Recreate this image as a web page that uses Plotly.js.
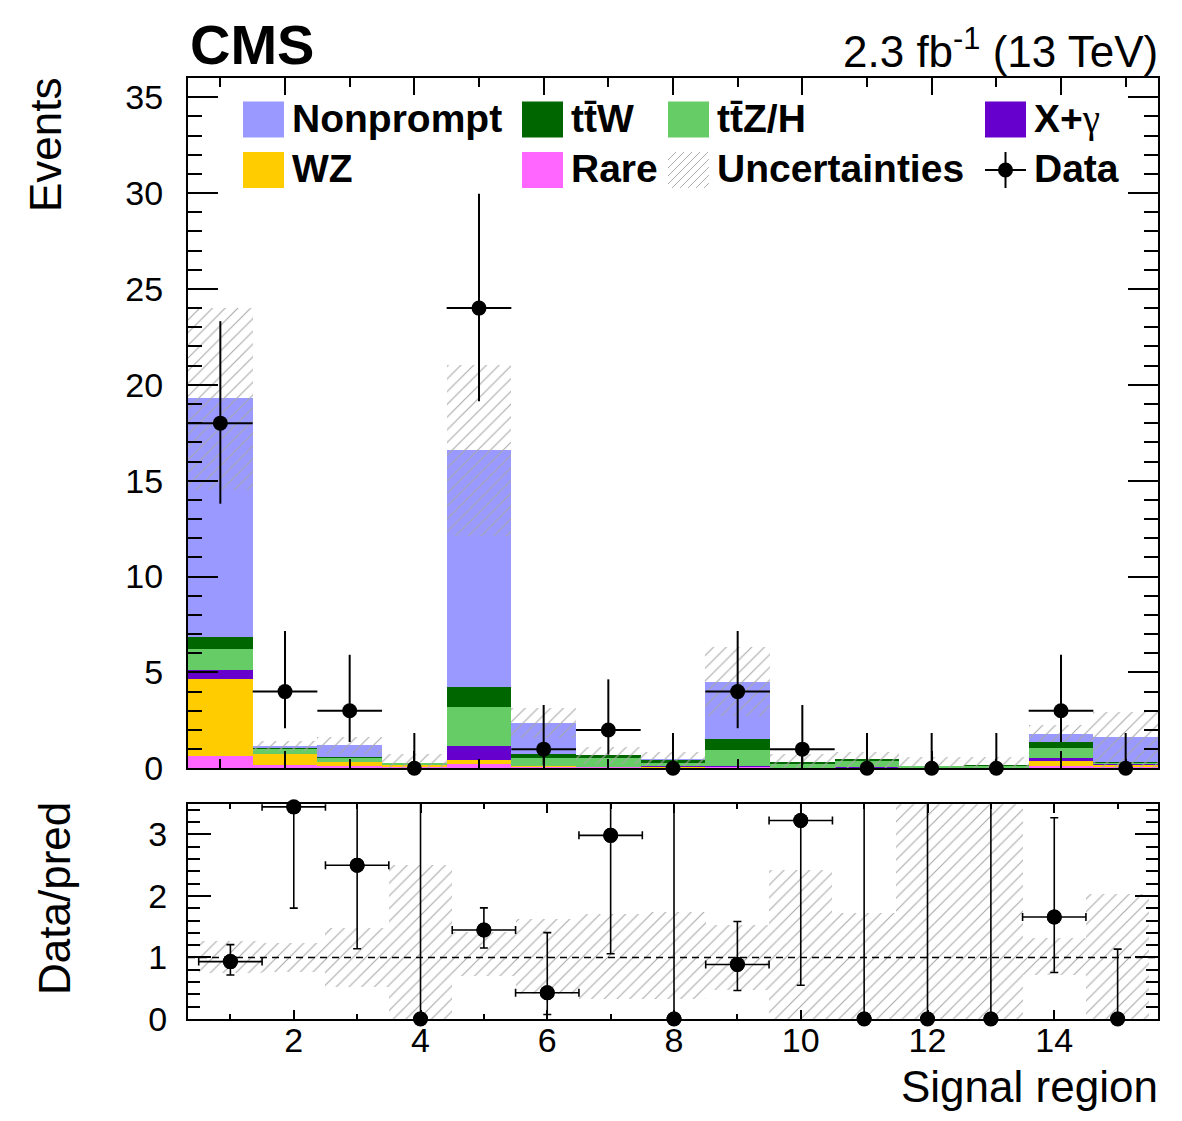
<!DOCTYPE html>
<html>
<head>
<meta charset="utf-8">
<script src="https://cdn.plot.ly/plotly-3.0.1.min.js"></script>
<style>
  html, body { margin: 0; padding: 0; background: #ffffff; }
  #chart { width: 1182px; height: 1121px; }
</style>
</head>
<body>
<div id="chart"></div>
<script>
// ---------------- data ----------------
const bins = [1, 2, 3, 4, 5, 6, 7, 8, 9, 10, 11, 12, 13, 14, 15];

const rare      = [0.64, 0.15, 0.12, 0.05, 0.22, 0.08, 0.05, 0.04, 0.06, 0.02, 0.02, 0.02, 0.02, 0.14, 0.06];
const wz        = [4.01, 0.60, 0.21, 0.12, 0.21, 0.03, 0.02, 0.01, 0.03, 0.01, 0.01, 0.00, 0.00, 0.26, 0.12];
const xgamma    = [0.48, 0.02, 0.02, 0.01, 0.73, 0.03, 0.02, 0.05, 0.04, 0.01, 0.02, 0.00, 0.00, 0.12, 0.02];
const ttzh      = [1.11, 0.22, 0.19, 0.08, 2.06, 0.40, 0.45, 0.17, 0.80, 0.20, 0.35, 0.08, 0.10, 0.54, 0.07];
const ttw       = [0.63, 0.08, 0.06, 0.03, 1.01, 0.23, 0.13, 0.14, 0.61, 0.07, 0.09, 0.02, 0.03, 0.33, 0.04];
const nonprompt = [12.42, 0.09, 0.60, 0.01, 12.35, 1.58, 0.00, 0.08, 2.98, 0.00, 0.00, 0.00, 0.01, 0.42, 1.31];

// total uncertainty on the prediction (absolute)
const uncUp   = [4.70, 0.25, 0.43, 0.45, 4.47, 0.78, 0.46, 0.36, 1.80, 0.44, 0.36, 0.45, 0.45, 0.45, 1.30];
const uncDown = [4.77, 0.25, 0.43, 0.30, 4.49, 0.78, 0.46, 0.36, 1.80, 0.31, 0.49, 0.12, 0.16, 0.45, 1.62];

// observed data with Poisson (Garwood) intervals
const observed    = [18, 4, 3, 0, 24, 1, 2, 0, 4, 1, 0, 0, 0, 3, 0];
const obsErrUp    = [5.32, 3.16, 2.92, 1.84, 5.96, 2.30, 2.64, 1.84, 3.16, 2.30, 1.84, 1.84, 1.84, 2.92, 1.84];
const obsErrDown  = [4.20, 1.91, 1.63, 0.00, 4.86, 0.83, 1.29, 0.00, 1.91, 0.83, 0.00, 0.00, 0.00, 1.63, 0.00];

// ratio-panel uncertainty band (relative, as drawn)
const ratioBandLow  = [0.75, 0.76, 0.52, 0.00, 0.70, 0.40, 0.33, 0.32, 0.47, 0.00, 0.00, 0.00, 0.00, 0.71, 0.00];
const ratioBandHigh = [1.26, 1.24, 1.48, 2.50, 1.42, 1.62, 1.70, 1.74, 1.53, 2.42, 1.72, 3.60, 3.60, 1.31, 2.03];

const yTickVals = [0, 5, 10, 15, 20, 25, 30, 35];
const rTickVals = [0, 1, 2, 3];
const xTickVals = [2, 4, 6, 8, 10, 12, 14];

// ---------------- style ----------------
const FONT = '"Liberation Sans", Arial, Helvetica, sans-serif';
const colors = {
  Nonprompt: '#9999ff', ttW: '#006600', ttZH: '#66cc66',
  Xg: '#6600cc', WZ: '#ffcc00', Rare: '#ff66ff'
};
const hatch = { shape: '/', fgcolor: '#a8a8a8', bgcolor: 'rgba(0,0,0,0)', size: 9, solidity: 0.12 };

// ---------------- stacked prediction ----------------
const components = [
  { name: 'Rare',      y: rare,      color: colors.Rare },
  { name: 'WZ',        y: wz,        color: colors.WZ },
  { name: 'X+γ',       y: xgamma,    color: colors.Xg },
  { name: 'tt̄Z/H',     y: ttzh,      color: colors.ttZH },
  { name: 'tt̄W',       y: ttw,       color: colors.ttW },
  { name: 'Nonprompt', y: nonprompt, color: colors.Nonprompt }
];

const traces = [];
let cum = bins.map(() => 0);
components.forEach(c => {
  traces.push({
    type: 'bar', x: bins, y: c.y, base: cum.slice(), width: 1,
    marker: { color: c.color, line: { width: 0 } },
    name: c.name, xaxis: 'x', yaxis: 'y', showlegend: false, hoverinfo: 'skip'
  });
  cum = cum.map((v, i) => v + c.y[i]);
});
const total = cum;

// uncertainty band, top panel
const bandBase = total.map((t, i) => Math.max(0, t - uncDown[i]));
traces.push({
  type: 'bar', x: bins, base: bandBase,
  y: total.map((t, i) => t + uncUp[i] - bandBase[i]), width: 1,
  marker: { color: 'rgba(0,0,0,0)', line: { width: 0 }, pattern: hatch },
  name: 'Uncertainties', xaxis: 'x', yaxis: 'y', showlegend: false, hoverinfo: 'skip'
});

// data, top panel
traces.push({
  type: 'scatter', mode: 'markers', x: bins, y: observed,
  marker: { color: 'black', size: 15 },
  error_y: { type: 'data', symmetric: false, array: obsErrUp, arrayminus: obsErrDown, color: 'black', thickness: 2, width: 0 },
  error_x: { type: 'data', array: observed.map(d => d > 0 ? 0.5 : 0), color: 'black', thickness: 2, width: 0 },
  cliponaxis: false, name: 'Data', xaxis: 'x', yaxis: 'y', showlegend: false
});

// ratio band
traces.push({
  type: 'bar', x: bins, base: ratioBandLow,
  y: ratioBandHigh.map((h, i) => h - ratioBandLow[i]), width: 1,
  marker: { color: 'rgba(0,0,0,0)', line: { width: 0 }, pattern: hatch },
  xaxis: 'x2', yaxis: 'y2', showlegend: false, hoverinfo: 'skip'
});

// ratio points
const ratio = observed.map((d, i) => d / total[i]);
traces.push({
  type: 'scatter', mode: 'markers', x: bins, y: ratio,
  marker: { color: 'black', size: 15 },
  error_y: { type: 'data', symmetric: false,
             array: obsErrUp.map((e, i) => e / total[i]),
             arrayminus: obsErrDown.map((e, i) => e / total[i]),
             color: 'black', thickness: 1.6, width: 4 },
  error_x: { type: 'data', array: observed.map(d => d > 0 ? 0.5 : 0), color: 'black', thickness: 1.6, width: 4 },
  cliponaxis: true, xaxis: 'x2', yaxis: 'y2', showlegend: false
});
traces.push({
  type: 'scatter', mode: 'markers', x: bins, y: ratio,
  marker: { color: 'black', size: 15 },
  cliponaxis: false, xaxis: 'x2', yaxis: 'y2', showlegend: false
});

// ---------------- layout helpers (pixel -> paper) ----------------
const L = 188, R = 1158, T = 78, B = 1019;
const px = x => (x - L) / (R - L);
const py = y => (B - y) / (B - T);

const shapes = [];
const annotations = [];

// dashed line at ratio = 1
shapes.push({ type: 'line', xref: 'paper', yref: 'y2', x0: 0, x1: 1, y0: 1, y1: 1,
  line: { color: 'black', width: 1.5, dash: '7px,5px' }, layer: 'above' });

// legend
const legendCols = [243, 522, 668, 985];
const legendRows = [119.5, 170];
const boxW = 41, boxH = 36;
const GAMMA = '<span style="font-family:\'Liberation Serif\', serif;font-weight:normal">γ</span>';
const legendItems = [
  { text: 'Nonprompt', col: 0, row: 0, kind: 'box', color: colors.Nonprompt },
  { text: 'tt̄W',       col: 1, row: 0, kind: 'box', color: colors.ttW },
  { text: 'tt̄Z/H',     col: 2, row: 0, kind: 'box', color: colors.ttZH },
  { text: 'X+' + GAMMA, col: 3, row: 0, kind: 'box', color: colors.Xg },
  { text: 'WZ',        col: 0, row: 1, kind: 'box', color: colors.WZ },
  { text: 'Rare',      col: 1, row: 1, kind: 'box', color: colors.Rare },
  { text: 'Uncertainties', col: 2, row: 1, kind: 'hatch' },
  { text: 'Data',      col: 3, row: 1, kind: 'data' }
];
legendItems.forEach(it => {
  const x0 = legendCols[it.col], x1 = x0 + boxW;
  const yc = legendRows[it.row], y0 = yc - boxH / 2, y1 = yc + boxH / 2;
  if (it.kind === 'box') {
    shapes.push({ type: 'rect', xref: 'paper', yref: 'paper', x0: px(x0), x1: px(x1), y0: py(y1), y1: py(y0),
      fillcolor: it.color, line: { width: 0 } });
  } else if (it.kind === 'hatch') {
    const step = 8, h = boxH;
    for (let c = x0 - h; c < x1; c += step) {
      const tmin = Math.max(0, x0 - c), tmax = Math.min(h, x1 - c);
      if (tmax - tmin > 0.5) {
        shapes.push({ type: 'line', xref: 'paper', yref: 'paper',
          x0: px(c + tmin), y0: py(y1 - tmin), x1: px(c + tmax), y1: py(y1 - tmax),
          line: { color: '#b0b0b0', width: 1 } });
      }
    }
  } else {
    const xc = (x0 + x1) / 2, r = 7.5;
    shapes.push({ type: 'line', xref: 'paper', yref: 'paper', x0: px(x0), x1: px(x1), y0: py(yc), y1: py(yc), line: { color: 'black', width: 2 } });
    shapes.push({ type: 'line', xref: 'paper', yref: 'paper', x0: px(xc), x1: px(xc), y0: py(y0), y1: py(y1), line: { color: 'black', width: 2 } });
    shapes.push({ type: 'circle', xref: 'paper', yref: 'paper', x0: px(xc - r), x1: px(xc + r), y0: py(yc + r), y1: py(yc - r), fillcolor: 'black', line: { width: 0 } });
  }
  annotations.push({ xref: 'paper', yref: 'paper', x: px(x1 + 6), y: py(yc - 1), xanchor: 'left', yanchor: 'middle',
    text: '<b>' + it.text + '</b>', showarrow: false, font: { family: FONT, size: 39, color: 'black' } });
});

// header texts and axis titles
annotations.push({ xref: 'paper', yref: 'paper', x: px(188), y: py(44), xanchor: 'left', yanchor: 'middle',
  text: '<b>CMS</b>', showarrow: false, font: { family: FONT, size: 56, color: 'black' } });
annotations.push({ xref: 'paper', yref: 'paper', x: px(1160), y: py(48), xanchor: 'right', yanchor: 'middle',
  text: '2.3 fb<sup>-1</sup> (13 TeV)', showarrow: false, font: { family: FONT, size: 44, color: 'black' } });
annotations.push({ xref: 'paper', yref: 'paper', x: px(45), y: py(145), xanchor: 'center', yanchor: 'middle', textangle: -90,
  text: 'Events', showarrow: false, font: { family: FONT, size: 44, color: 'black' } });
annotations.push({ xref: 'paper', yref: 'paper', x: px(54), y: py(899), xanchor: 'center', yanchor: 'middle', textangle: -90,
  text: 'Data/pred', showarrow: false, font: { family: FONT, size: 44, color: 'black' } });
annotations.push({ xref: 'paper', yref: 'paper', x: px(1160), y: py(1086), xanchor: 'right', yanchor: 'middle',
  text: 'Signal region', showarrow: false, font: { family: FONT, size: 44, color: 'black' } });

const axisCommon = {
  showline: true, linecolor: 'black', linewidth: 2, mirror: 'allticks',
  ticks: 'inside', tickcolor: 'black', tickwidth: 2,
  showgrid: false, zeroline: false, fixedrange: true,
  tickfont: { family: FONT, size: 34, color: 'black' }
};

const layout = {
  width: 1182, height: 1121,
  margin: { l: L, r: 1182 - R, t: T, b: 1121 - B, pad: 0 },
  paper_bgcolor: 'white', plot_bgcolor: 'white',
  barmode: 'overlay', bargap: 0,
  showlegend: false,
  font: { family: FONT, color: 'black' },
  xaxis: Object.assign({}, axisCommon, {
    domain: [0, 1], anchor: 'y', range: [0.5, 15.5],
    tickmode: 'array', tickvals: xTickVals, ticklen: 17, showticklabels: false,
    minor: { dtick: 1, tick0: 0, ticklen: 9, tickcolor: 'black', tickwidth: 2, ticks: 'inside', showgrid: false }
  }),
  yaxis: Object.assign({}, axisCommon, {
    domain: [py(768.3), 1], anchor: 'x', range: [0, 36],
    tickmode: 'array', tickvals: yTickVals, ticklen: 30, ticklabelstandoff: 16,
    minor: { dtick: 1, tick0: 0, ticklen: 14, tickcolor: 'black', tickwidth: 2, ticks: 'inside', showgrid: false }
  }),
  xaxis2: Object.assign({}, axisCommon, {
    domain: [0, 1], anchor: 'y2', range: [0.331, 15.637],
    tickmode: 'array', tickvals: xTickVals, ticklen: 9, ticklabelstandoff: -10,
    minor: { dtick: 1, tick0: 0, ticklen: 5, tickcolor: 'black', tickwidth: 2, ticks: 'inside', showgrid: false }
  }),
  yaxis2: Object.assign({}, axisCommon, {
    domain: [0, py(804.3)], anchor: 'x2', range: [0, 3.49],
    tickmode: 'array', tickvals: rTickVals, ticklen: 23, ticklabelstandoff: 12,
    minor: { dtick: 0.2, tick0: 0, ticklen: 12, tickcolor: 'black', tickwidth: 2, ticks: 'inside', showgrid: false }
  }),
  shapes: shapes,
  annotations: annotations
};

Plotly.newPlot('chart', traces, layout, { staticPlot: true, displayModeBar: false });
</script>
</body>
</html>
